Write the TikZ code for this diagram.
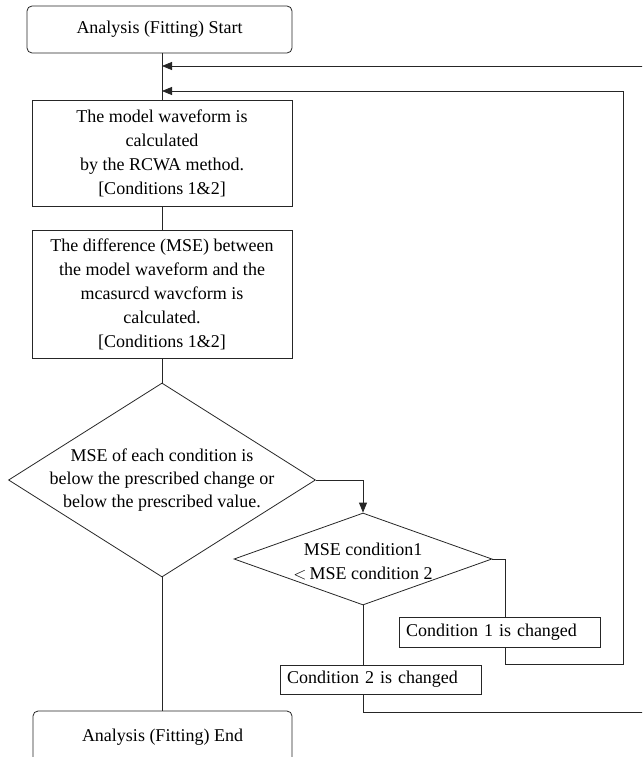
\documentclass[tikz,border=0pt]{standalone}
\usepackage{fontspec}
\setmainfont{Liberation Serif}
\usetikzlibrary{shapes.geometric,arrows.meta}
\begin{document}
\begin{tikzpicture}[x=1pt,y=-1pt,
  every node/.style={font=\fontsize{18}{24}\selectfont},
  box/.style={draw=black!85, line width=0.8pt, minimum width=260pt, inner sep=0pt, align=center},
  term/.style={box, rounded corners=5pt},
  dia/.style={draw=black!85, line width=0.8pt, diamond, inner sep=0pt},
  cbox/.style={draw=black!85, line width=0.8pt, inner xsep=7pt, inner ysep=0pt, text width=187pt, align=left},
  conn/.style={draw=black!85, line width=0.8pt},
  arr/.style={conn, -{Triangle[length=10pt,width=8pt]}}]
\useasboundingbox (0,0) rectangle (642,757);
\clip (0,0) rectangle (642,757);
% nodes
\node[term, minimum width=265pt, minimum height=47pt] (start) at (159.5,29.5) {Analysis (Fitting) Start};
\node[box, minimum height=106pt] (model) at (162,153) {The model waveform is\\calculated\\by the RCWA method.\\{[}Conditions 1\&2{]}};
\node[box, minimum height=128pt] (mse) at (162,294) {The difference (MSE) between\\the model waveform and the\\mcasurcd wavcform is\\calculated.\\{[}Conditions 1\&2{]}};
\node[dia, minimum width=307pt, minimum height=194pt,
  label={[align=center, font=\fontsize{18}{23}\selectfont]center:MSE of each condition is\\below the prescribed change or\\below the prescribed value.}] (d1) at (162,480) {};
\node[dia, minimum width=258pt, minimum height=92pt,
  label={[align=center, font=\fontsize{18}{24}\selectfont, yshift=-2pt]center:MSE condition1\\${<}$\,MSE condition 2}] (d2) at (363,559) {};
\node[cbox, minimum height=30pt] (c1) at (499.5,632) {Condition 1 is changed};
\node[cbox, minimum height=29pt] (c2) at (380.5,679.5) {Condition 2 is changed};
\node[term, minimum width=259pt, minimum height=52pt] (endb) at (162.5,737) {Analysis (Fitting) End};
% coordinates
\coordinate (j1) at (162,66);
\coordinate (j2) at (162,91);
\coordinate (r1a) at (505,664);
\coordinate (r1b) at (623,664);
\coordinate (r1c) at (623,91);
\coordinate (r2a) at (363,712);
\coordinate (r2b) at (670,712);
\coordinate (r2c) at (670,66);
% connectors
\draw[conn] (model.north |- start.south) -- (model.north);
\draw[conn] (model.south) -- (mse.north);
\draw[conn] (mse.south) -- (d1.north);
\draw[conn] (d1.south) -- (d1.south |- endb.north);
\draw[arr] (d1.east) -| (d2.north);
\draw[conn] (d2.east) -| (r1a |- c1.north);
\draw[conn] (d2.south) -- (d2.south |- c2.north);
\draw[arr] (r1a |- c1.south) -- (r1a) -- (r1b) -- (r1c) -- (j2);
\draw[arr] (r2a |- c2.south) -- (r2a) -- (r2b) -- (r2c) -- (j1);
\end{tikzpicture}
\end{document}
